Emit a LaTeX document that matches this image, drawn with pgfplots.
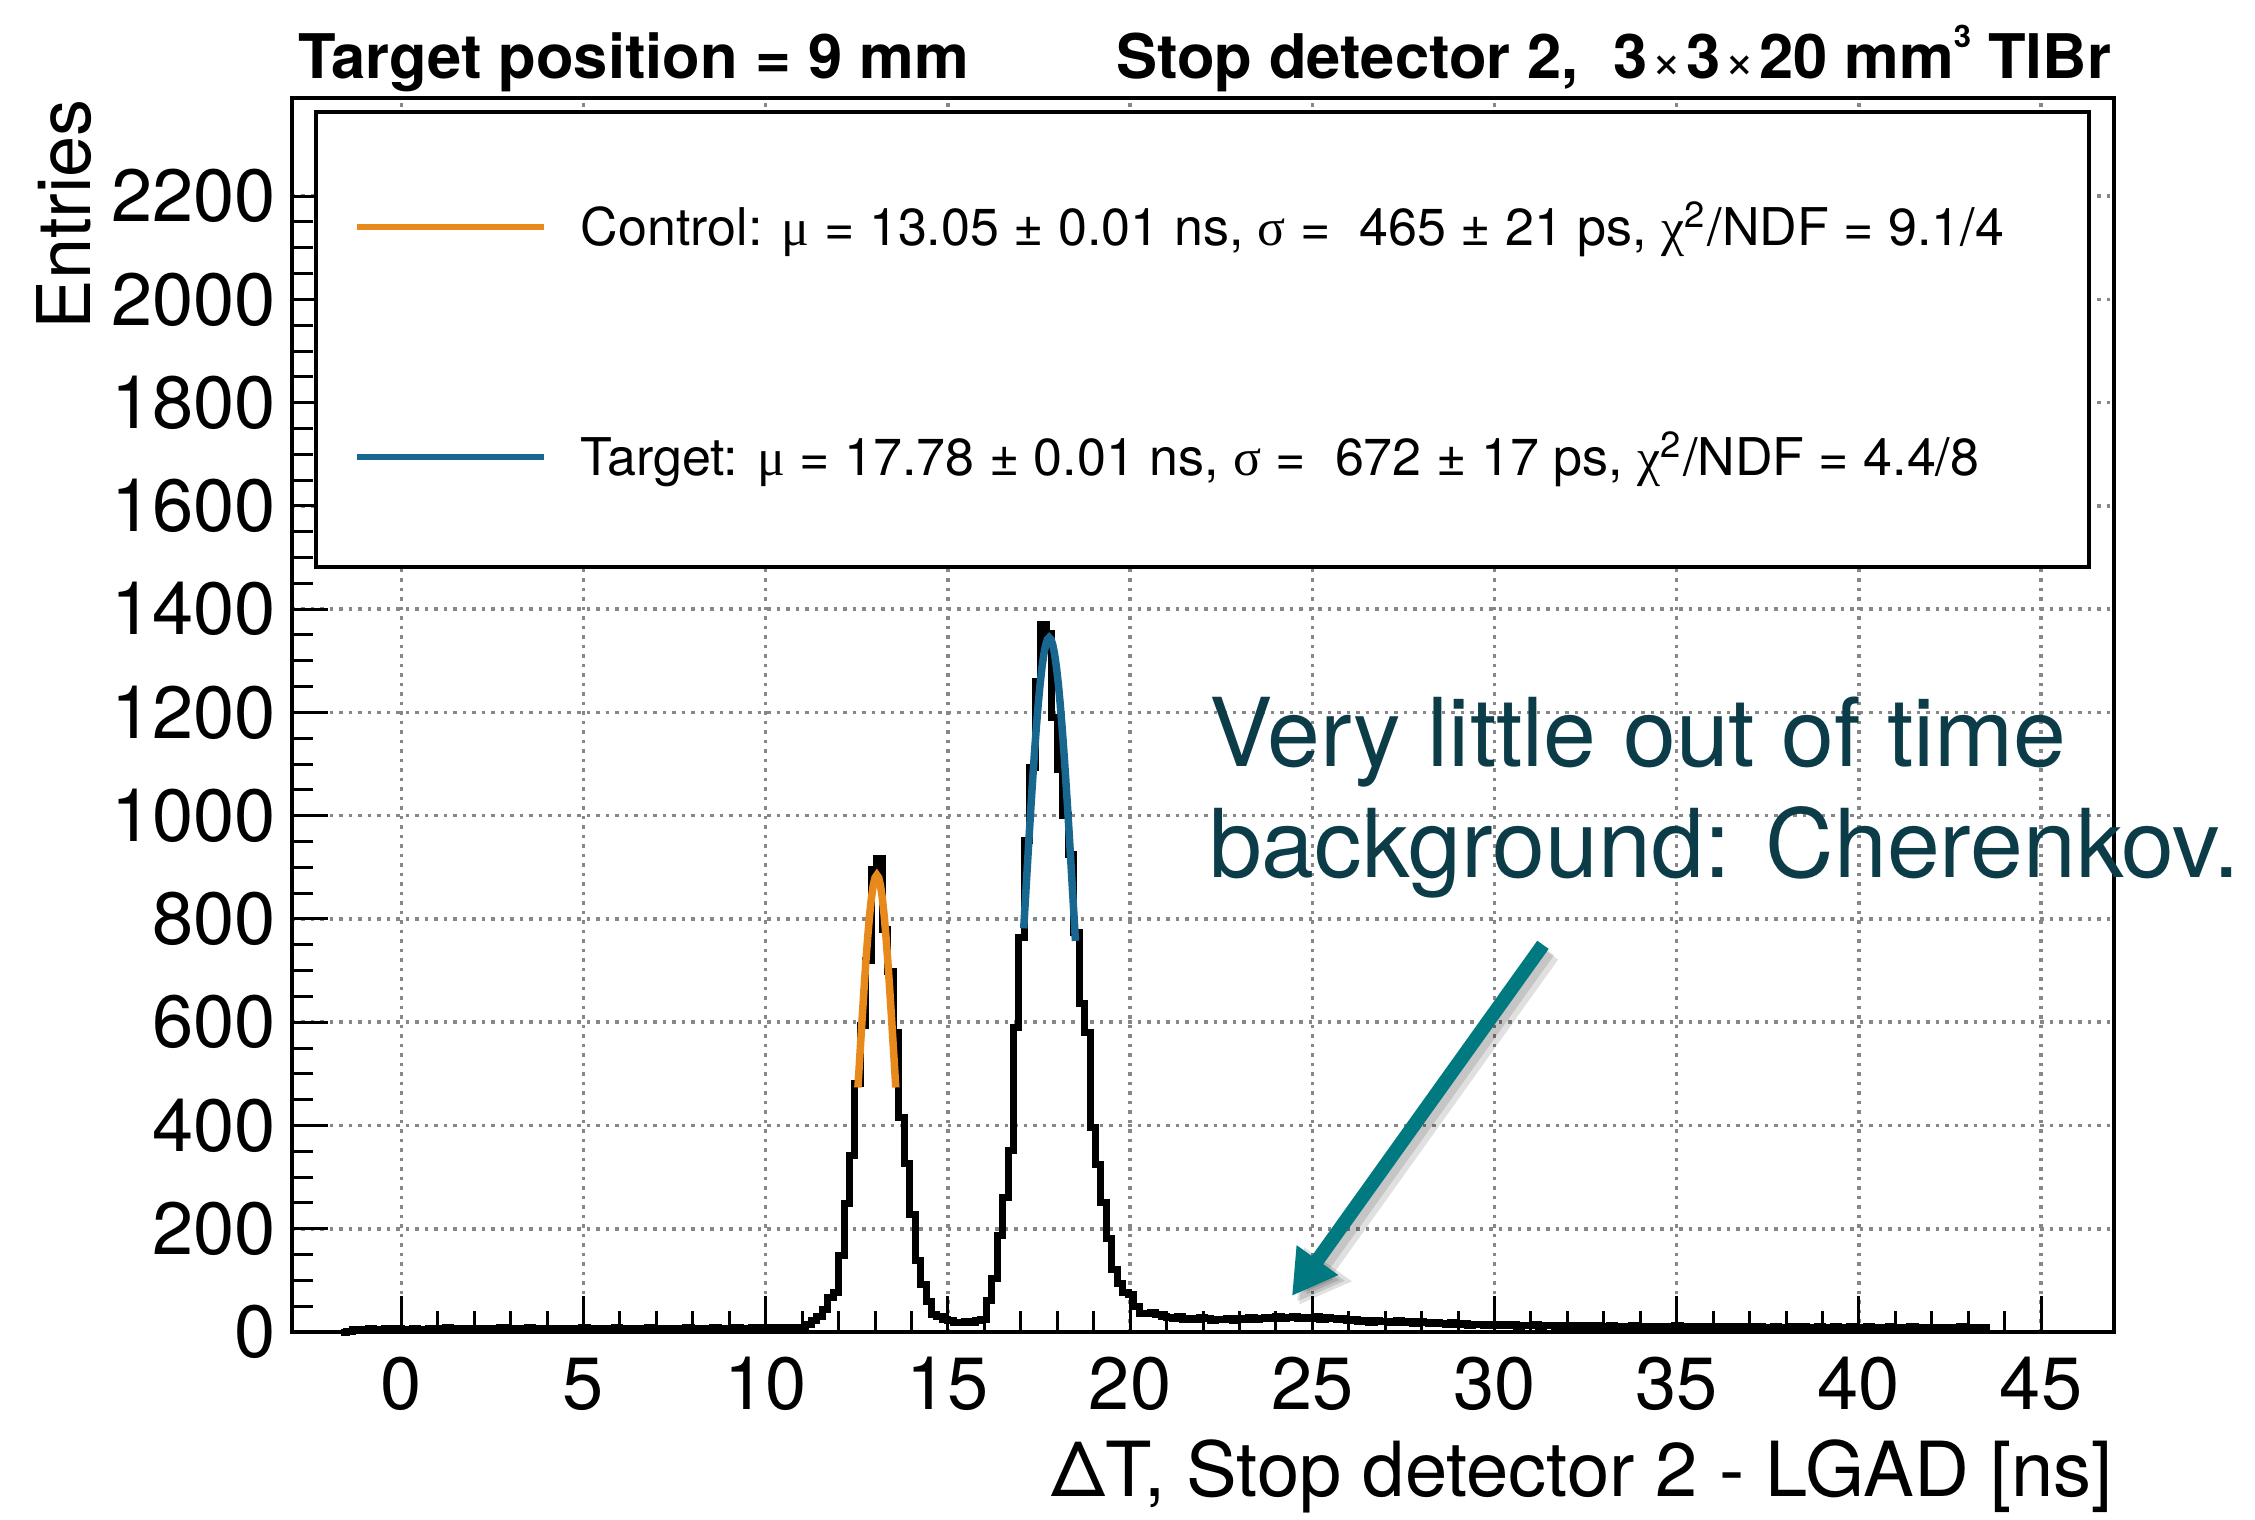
\documentclass[border=0pt]{standalone}
\usepackage{fontspec}
\setmainfont{TeX Gyre Heros}
\newfontfamily\greekfont{Liberation Serif}
\usepackage{pgfplots}
\pgfplotsset{compat=1.18}
\usepackage{pgfplotstable}
\usetikzlibrary{arrows.meta}

\definecolor{fitorange}{RGB}{232,137,28}
\definecolor{fitblue}{RGB}{23,103,145}
\definecolor{gridgray}{RGB}{135,135,135}
\definecolor{noteteal}{RGB}{12,60,72}
\definecolor{arrowteal}{RGB}{0,121,128}

% Delta T histogram: 0.15 ns bins from -1.5 ns to 43.5 ns,
% padded with an empty bin on each side to close the outline.
\pgfplotstableread[row sep=\\, header=false]{
0\\
2\\4\\5\\3\\6\\5\\4\\6\\5\\7\\4\\5\\
6\\5\\4\\7\\6\\5\\8\\5\\6\\4\\7\\6\\
5\\7\\6\\5\\8\\6\\7\\5\\6\\8\\6\\5\\
7\\6\\4\\6\\7\\5\\6\\8\\7\\6\\5\\7\\
6\\8\\7\\5\\6\\7\\6\\8\\6\\7\\5\\6\\
7\\6\\8\\7\\6\\5\\7\\8\\6\\7\\6\\8\\
7\\6\\8\\7\\9\\7\\8\\6\\8\\9\\7\\8\\
15\\22\\30\\44\\67\\76\\
148\\248\\342\\481\\594\\720\\895\\918\\779\\698\\
581\\416\\326\\228\\138\\93\\60\\34\\31\\25\\
22\\19\\18\\20\\19\\22\\25\\
62\\104\\186\\260\\351\\590\\764\\952\\1094\\1260\\
1370\\1352\\1190\\1090\\1000\\925\\773\\636\\581\\397\\
324\\250\\182\\122\\94\\76\\72\\50\\36\\35\\37\\33\\30\\
28\\26\\30\\25\\27\\24\\29\\26\\23\\25\\
24\\27\\22\\26\\25\\28\\24\\27\\29\\26\\
30\\27\\28\\31\\26\\29\\27\\30\\25\\28\\
26\\24\\27\\22\\25\\20\\23\\19\\22\\20\\
21\\18\\22\\19\\20\\17\\21\\18\\16\\19\\
17\\15\\18\\14\\16\\13\\15\\14\\12\\15\\
13\\14\\12\\15\\11\\13\\12\\14\\11\\13\\
12\\11\\13\\10\\12\\11\\13\\10\\12\\11\\
10\\12\\9\\11\\10\\12\\9\\11\\10\\9\\
11\\9\\10\\12\\9\\10\\8\\11\\10\\9\\
10\\8\\11\\9\\10\\9\\11\\8\\10\\9\\
9\\10\\8\\9\\11\\8\\10\\9\\8\\10\\
9\\8\\10\\9\\8\\11\\9\\8\\10\\9\\
8\\9\\10\\8\\9\\7\\10\\8\\9\\8\\
9\\8\\7\\9\\8\\10\\8\\7\\9\\8\\
0\\
}\histo

\newcommand{\gr}[1]{{\greekfont #1}}
\newcommand{\smalltimes}{{\mdseries\fontsize{10.5}{12}\selectfont\hspace{0.8pt}×\hspace{0.8pt}}}

\begin{document}
\begin{tikzpicture}
\begin{axis}[
  scale only axis,
  width=364.4pt, height=246.8pt,
  xmin=-3, xmax=47, ymin=0, ymax=2390,
  xtick={0,5,...,45}, minor x tick num=4,
  ytick={0,200,...,2200}, minor y tick num=3,
  tick align=inside, tick pos=left,
  major tick length=7.2pt, minor tick length=4.2pt,
  tick style={black, line width=0.6pt},
  axis line style={black, line width=0.9pt},
  grid=major,
  major grid style={gridgray, line width=0.7pt, dash pattern=on 0.7pt off 1.2pt},
  ticklabel style={font=\fontsize{14.8}{16}\selectfont},
  /pgf/number format/assume math mode=true,
  /pgf/number format/1000 sep={},
  xticklabel style={anchor=base, yshift=-15.4pt, inner sep=0pt},
  yticklabel style={anchor=east, xshift=-3pt, inner sep=0pt},
  clip=false,
]

% histogram
\addplot[black, line width=1.4pt, const plot mark left]
  table[x expr={-1.65+0.15*\coordindex}, y index=0] {\histo};

% Gaussian fit, control peak
\addplot[fitorange, line width=1.5pt] coordinates {
  (12.53,473.6) (12.55,496.4) (12.60,554.1) (12.65,611.3) (12.70,666.7)
  (12.75,718.7) (12.80,765.9) (12.85,806.8) (12.90,840.1) (12.95,864.8)
  (13.00,879.9) (13.05,885.0) (13.10,879.9) (13.15,864.8) (13.20,840.1)
  (13.25,806.8) (13.30,765.9) (13.35,718.7) (13.40,666.7) (13.45,611.3)
  (13.50,554.1) (13.55,496.4) (13.57,473.6)
};

% Gaussian fit, target peak
\addplot[fitblue, line width=1.5pt] coordinates {
  (17.08,781.8) (17.13,842.5) (17.18,902.8) (17.23,962.2) (17.28,1019.8)
  (17.33,1074.8) (17.38,1126.6) (17.43,1174.4) (17.48,1217.4) (17.53,1255.1)
  (17.58,1286.7) (17.63,1311.9) (17.68,1330.2) (17.73,1341.3) (17.78,1345.0)
  (17.83,1341.3) (17.88,1330.2) (17.93,1311.9) (17.98,1286.7) (18.03,1255.1)
  (18.08,1217.4) (18.13,1174.4) (18.18,1126.6) (18.23,1074.8) (18.28,1019.8)
  (18.33,962.2) (18.38,902.8) (18.43,842.5) (18.48,781.8) (18.50,757.6)
};

% legend box
\filldraw[fill=white, draw=black, line width=0.8pt]
  (axis cs:-2.34,1481.6) rectangle (axis cs:46.31,2362.9);
\draw[fitorange, line width=1.2pt] (axis cs:-1.22,2140) -- (axis cs:3.92,2140);
\draw[fitblue, line width=1.2pt] (axis cs:-1.22,1694.7) -- (axis cs:3.92,1694.7);
\node[anchor=base west, inner sep=0pt, font=\fontsize{10.4}{12}\selectfont]
  at (axis cs:4.90,2104.4)
  {Control: \gr{μ} = 13.05 ± 0.01 ns, \gr{σ} =\ \ 465 ± 21 ps, \gr{χ}\textsuperscript{2}/NDF = 9.1/4};
\node[anchor=base west, inner sep=0pt, font=\fontsize{10.4}{12}\selectfont]
  at (axis cs:4.90,1658)
  {Target: \gr{μ} = 17.78 ± 0.01 ns, \gr{σ} =\ \ 672 ± 17 ps, \gr{χ}\textsuperscript{2}/NDF = 4.4/8};

% annotation
\node[anchor=base west, inner sep=0pt, text=noteteal, font=\fontsize{19}{22}\selectfont]
  at (axis cs:22.14,1096) {Very little out of time};
\node[anchor=base west, inner sep=0pt, text=noteteal, font=\fontsize{19}{22}\selectfont]
  at (axis cs:22.14,881) {background: Cherenkov.};
\draw[black, opacity=0.12, line width=4pt, -{Triangle[length=10pt, width=11pt]}, shift={(1.4pt,-1.8pt)}]
  (axis cs:31.33,750) -- (axis cs:24.44,70);
\draw[black, opacity=0.12, line width=3pt, -{Triangle[length=9pt, width=10pt]}, shift={(1.0pt,-1.2pt)}]
  (axis cs:31.33,750) -- (axis cs:24.44,70);
\draw[arrowteal, line width=2.8pt, -{Triangle[length=8.8pt, width=9.6pt]}]
  (axis cs:31.33,750) -- (axis cs:24.44,70);

% titles and axis labels
\node[anchor=base west, inner sep=0pt, font=\bfseries\fontsize{12.3}{14}\selectfont]
  at (axis cs:-2.86,2428.7) {Target position = 9 mm};
\node[anchor=base east, inner sep=0pt, font=\bfseries\fontsize{12.3}{14}\selectfont]
  at (axis cs:46.95,2428.7)
  {Stop detector 2,\ \ 3\smalltimes 3\smalltimes 20 mm\raisebox{6.2pt}{\fontsize{6.2}{7}\selectfont 3} TlBr};
\node[anchor=base east, inner sep=0pt, font=\fontsize{15.2}{17}\selectfont]
  at (axis cs:47,-317.6) {ΔT, Stop detector 2 - LGAD [ns]};
\node[rotate=90, anchor=base east, inner sep=0pt, font=\fontsize{14.8}{16}\selectfont]
  at (axis cs:-8.543,2390) {Entries};

\coordinate (bbsw) at (axis cs:-11.013,-362.2);
\coordinate (bbne) at (axis cs:50.869,2579.8);
\end{axis}
\pgfresetboundingbox
\useasboundingbox (bbsw) rectangle (bbne);
\end{tikzpicture}
\end{document}
